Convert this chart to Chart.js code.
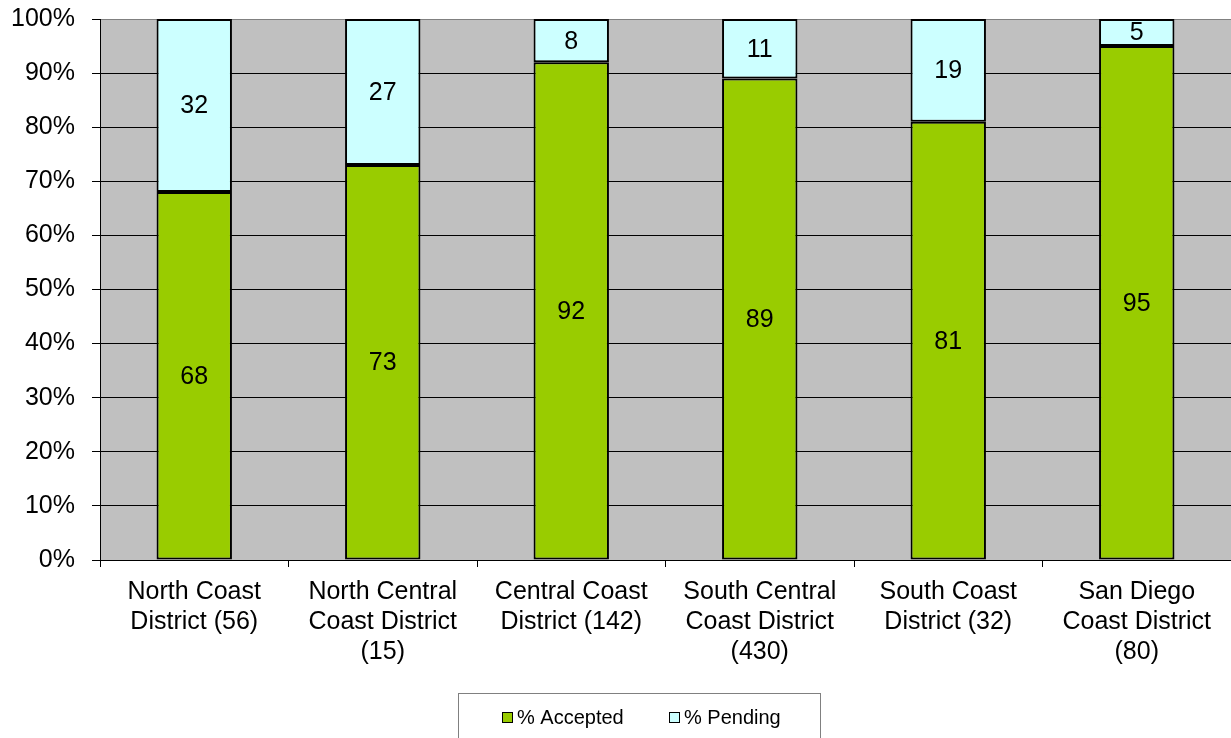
<!DOCTYPE html>
<html>
<head>
<meta charset="utf-8">
<title>Accepted vs Pending by District</title>
<script src="https://cdn.jsdelivr.net/npm/chart.js@4/dist/chart.umd.min.js"></script>
<style>
  html, body { margin: 0; padding: 0; background: #ffffff; }
  canvas { display: block; }
</style>
</head>
<body>
<canvas id="chart" width="1231" height="738"></canvas>
<script>
// District names (with sample counts), split into display lines
const districts = [
  ["North Coast", "District (56)"],
  ["North Central", "Coast District", "(15)"],
  ["Central Coast", "District (142)"],
  ["South Central", "Coast District", "(430)"],
  ["South Coast", "District (32)"],
  ["San Diego", "Coast District", "(80)"]
];
const acceptedPct = [68, 73, 92, 89, 81, 95];
const pendingPct  = [32, 27, 8, 11, 19, 5];
const yTickValues = [0, 10, 20, 30, 40, 50, 60, 70, 80, 90, 100];

const FONT = "'Liberation Sans', Arial, sans-serif";
const GREEN = '#99CC00';
const CYAN = '#CCFFFF';

// grey plot background
const plotBackground = {
  id: 'plotBackground',
  beforeDraw(chart) {
    const { ctx, chartArea: a } = chart;
    ctx.save();
    ctx.fillStyle = '#C0C0C0';
    ctx.fillRect(a.left, a.top, a.right - a.left, a.bottom - a.top);
    ctx.restore();
  }
};

// value written in the middle of each stacked segment
const segmentLabels = {
  id: 'segmentLabels',
  afterDatasetsDraw(chart) {
    const { ctx } = chart;
    ctx.save();
    ctx.font = '25px ' + FONT;
    ctx.fillStyle = '#000';
    ctx.textAlign = 'center';
    ctx.textBaseline = 'middle';
    chart.data.datasets.forEach((ds, di) => {
      const meta = chart.getDatasetMeta(di);
      meta.data.forEach((bar, i) => {
        const p = bar.getProps(['x', 'y', 'base'], true);
        ctx.fillText(String(ds.data[i]), p.x, (p.y + p.base) / 2 + 1);
      });
    });
    ctx.restore();
  }
};

// boxed legend below the category labels
const boxedLegend = {
  id: 'boxedLegend',
  afterDraw(chart) {
    const { ctx } = chart;
    const boxLeft = 458, boxTop = 693, boxRight = 820;
    ctx.save();
    ctx.strokeStyle = '#808080';
    ctx.lineWidth = 1;
    ctx.strokeRect(boxLeft + 0.5, boxTop + 0.5, boxRight - boxLeft, 60);
    ctx.font = '20px ' + FONT;
    ctx.textBaseline = 'middle';
    ctx.textAlign = 'left';
    const itemX = [502, 669];
    const midY = 718;
    chart.data.datasets.forEach((ds, i) => {
      const x = itemX[i];
      ctx.fillStyle = ds.backgroundColor;
      ctx.fillRect(x, midY - 6, 11, 11);
      ctx.strokeStyle = '#000';
      ctx.strokeRect(x + 0.5, midY - 5.5, 10, 10);
      ctx.fillStyle = '#000';
      ctx.fillText(ds.label, x + 15, midY);
    });
    ctx.restore();
  }
};

new Chart(document.getElementById('chart'), {
  type: 'bar',
  data: {
    labels: districts,
    datasets: [
      {
        label: '% Accepted',
        data: acceptedPct,
        backgroundColor: GREEN,
        borderColor: '#000',
        borderWidth: 2,
        borderSkipped: false,
        categoryPercentage: 1.0,
        barPercentage: 0.4
      },
      {
        label: '% Pending',
        data: pendingPct,
        backgroundColor: CYAN,
        borderColor: '#000',
        borderWidth: 2,
        borderSkipped: false,
        categoryPercentage: 1.0,
        barPercentage: 0.4
      }
    ]
  },
  options: {
    responsive: false,
    animation: false,
    layout: { padding: { top: 19, left: 0, right: 0, bottom: 68 } },
    plugins: {
      legend: { display: false },
      tooltip: { enabled: false }
    },
    scales: {
      x: {
        stacked: true,
        afterFit(scale) {
          scale.height = 110;
          scale.paddingLeft = 0;
          scale.paddingRight = 0;
        },
        grid: {
          display: true,
          offset: true,
          drawOnChartArea: false,
          drawTicks: true,
          tickLength: 7,
          color: '#000'
        },
        border: { display: true, color: '#000', width: 1 },
        ticks: {
          color: '#000',
          font: { family: FONT, size: 25, lineHeight: 1.2 },
          maxRotation: 0,
          minRotation: 0,
          autoSkip: false,
          padding: 10
        }
      },
      y: {
        stacked: true,
        min: 0,
        max: 100,
        afterFit(scale) {
          scale.width = 100;
          scale.paddingTop = 0;
          scale.paddingBottom = 0;
        },
        afterBuildTicks(scale) {
          scale.ticks = yTickValues.map(v => ({ value: v }));
        },
        grid: {
          color: ctx => (ctx.tick && ctx.tick.value === 100 ? '#808080' : '#000'),
          tickColor: '#000',
          tickLength: 8,
          lineWidth: 1
        },
        border: { display: true, color: '#000', width: 1 },
        ticks: {
          color: '#000',
          font: { family: FONT, size: 25 },
          padding: 17,
          callback: v => v + '%'
        }
      }
    }
  },
  plugins: [plotBackground, segmentLabels, boxedLegend]
});
</script>
</body>
</html>
